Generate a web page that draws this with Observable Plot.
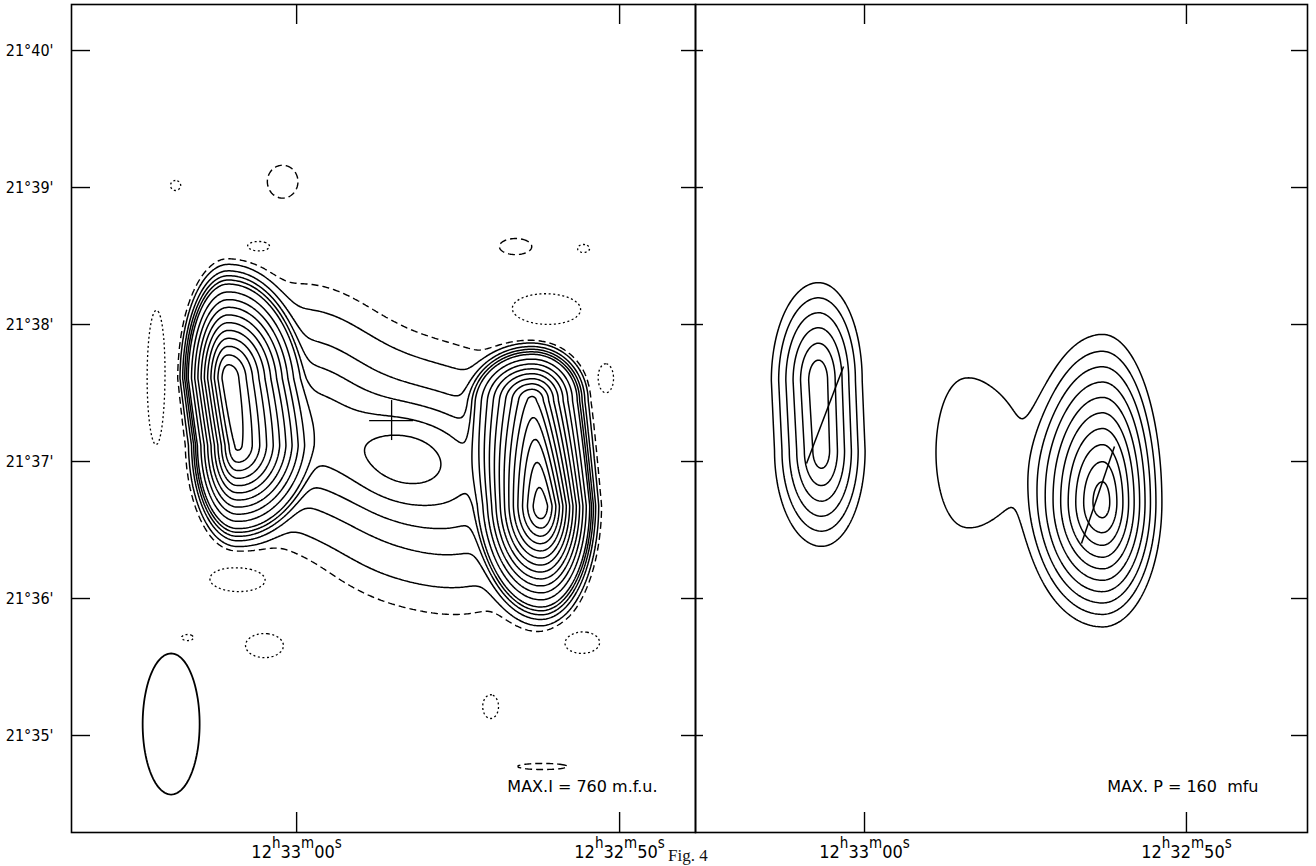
<!DOCTYPE html>
<html>
<head>
<meta charset="utf-8">
<script src="https://cdn.jsdelivr.net/npm/d3@7"></script>
<script src="https://cdn.jsdelivr.net/npm/@observablehq/plot@0.6"></script>
<style>
  html, body { margin: 0; padding: 0; background: #fff; }
  #figure { position: relative; width: 1316px; height: 866px; overflow: hidden; background: #fff; }
  #figure svg { position: absolute; top: 0; }
  #caption { position: absolute; left: 668px; top: 847px; font-family: "Liberation Serif", serif;
             font-size: 17px; line-height: 1; color: #111; white-space: nowrap; }
</style>
</head>
<body>
<div id="figure"><div id="caption">Fig. 4</div></div>
<script>
// ---- Axes: declination in arcmin past 21°, right ascension in seconds past 12h32m ----
const decTicks  = [35, 36, 37, 38, 39, 40];
const decLabels = ["21°35'", "21°36'", "21°37'", "21°38'", "21°39'", "21°40'"];
const raTicks   = [60, 50];
const raLabels  = ["12h33m00s", "12h32m50s"];

// Map extents
const decRange = [34.292, 40.336];
const raRangeI = [66.97, 47.65];
const raRangeP = [65.25, 46.24];

// ---- Total intensity (I) map ----
// Lobes: ridges running from a bottom point to a top point (RA s, Dec arcmin, peak mfu),
// with outer radii towards E, W, N and S.
const iLobeRaBot  = [61.858, 52.415];
const iLobeDecBot = [37.117, 36.679];
const iLobeAmpBot = [590, 735];
const iLobeRaTop  = [62.136, 52.693];
const iLobeDecTop = [37.606, 37.445];
const iLobeAmpTop = [632, 520];
const iLobeRadE   = [1.455, 2.043];
const iLobeRadW   = [2.322, 1.734];
const iLobeRadN   = [0.825, 0.423];
const iLobeRadS   = [0.730, 0.861];

// Bridge, core and the small noise islands (Gaussian blobs)
const iRa   = [59.876, 57.090, 54.613, 56.625,
               63.746, 61.176, 52.322, 50.433, 51.115, 64.334, 61.734, 63.375, 60.991, 51.176, 53.994,
               60.433, 53.220, 52.384];
const iDec  = [37.299, 36.993, 36.876, 37.044,
               39.015, 38.569, 38.109, 37.606, 38.555, 37.591, 36.146, 35.715, 35.657, 35.679, 35.212,
               39.044, 38.569, 34.774];
const iAmp  = [100, 72, 75, 34,
               -20, -20, -20, -20, -20, -20, -20, -20, -20, -20, -20,
               20, 20, 20];
const iSigE = [1.548, 1.486, 1.486, 1.200,
               0.155, 0.433, 1.115, 0.248, 0.186, 0.310, 0.991, 0.186, 0.588, 0.557, 0.248,
               0.464, 0.495, 0.774];
const iSigW = [1.548, 1.486, 1.486, 1.200,
               0.155, 0.433, 1.115, 0.248, 0.186, 0.310, 0.991, 0.186, 0.588, 0.557, 0.248,
               0.464, 0.495, 0.774];
const iSigN = [0.482, 0.453, 0.453, 0.230,
               0.036, 0.044, 0.117, 0.109, 0.029, 0.526, 0.102, 0.022, 0.088, 0.080, 0.088,
               0.117, 0.058, 0.022];
const iSigS = [0.438, 0.496, 0.496, 0.230,
               0.036, 0.044, 0.117, 0.109, 0.029, 0.526, 0.102, 0.022, 0.088, 0.080, 0.088,
               0.117, 0.058, 0.022];

// Contour levels of the I map (mfu)
const iLevelNeg    = [12];   // traced on the negated map: the -12 mfu level
const iLevelLow    = [12];
const iLevelsSolid = [25, 50, 75, 100, 125, 175, 225, 275, 325, 375, 425, 475, 525,
                      575, 625, 675, 725];

// ---- Polarized intensity (P) map ----
const pLobeRaBot  = [61.335, 52.609];
const pLobeDecBot = [37.080, 36.701];
const pLobeAmpBot = [98, 157];
const pLobeRaTop  = [61.429, 52.609];
const pLobeDecTop = [37.591, 36.701];
const pLobeAmpTop = [100, 157];
const pLobeRadE   = [1.677, 2.578];
const pLobeRadW   = [1.553, 1.988];
const pLobeRadN   = [0.818, 1.321];
const pLobeRadS   = [0.803, 0.978];

const pRa   = [56.925, 55.435];
const pDec  = [37.066, 37.044];
const pAmp  = [25, 12];
const pSigE = [0.839, 0.776];
const pSigW = [0.994, 0.776];
const pSigN = [0.511, 0.401];
const pSigS = [0.511, 0.401];

const pLevels = [15, 30, 45, 60, 75, 90, 105, 120, 135, 150];

// E-vectors on the P map (endpoints)
const vecRa1  = [61.801, 53.261];
const vecDec1 = [36.985, 36.401];
const vecRa2  = [60.652, 52.236];
const vecDec2 = [37.693, 37.109];

// Beam (half axes) and optical position
const beamRa = 63.885, beamDec = 35.084, beamHalfRa = 0.882, beamHalfDec = 0.515;
const galRa = 57.059, galDec = 37.299, galArmRa = 0.68, galArmDec = 0.146;

const maxI = 760, maxP = 160;

// ---- Sampling the model onto a regular grid ----
// Lobe profile: a cone with a rounded top (EPS) and a soft toe (SOFT)
const EPS = 0.15, S1 = Math.sqrt(1 + EPS * EPS), SOFT = 0.06;
const TOE0 = SOFT * Math.log1p(Math.exp(1 / SOFT));
function lobes(raB, decB, ampB, raT, decT, ampT, rE, rW, rN, rS) {
  return raB.map((_, k) => ({raB: raB[k], decB: decB[k], ampB: ampB[k], raT: raT[k], decT: decT[k],
    ampT: ampT[k], rE: rE[k], rW: rW[k], rN: rN[k], rS: rS[k]}));
}
function blobs(ra, dec, amp, sE, sW, sN, sS) {
  return ra.map((r, k) => ({ra: r, dec: dec[k], amp: amp[k], sE: sE[k], sW: sW[k], sN: sN[k], sS: sS[k]}));
}
function lobeValue(ra, dec, c) {
  const span = c.decT - c.decB;
  const t = span === 0 ? 0 : Math.max(0, Math.min(1, (dec - c.decB) / span));
  const sRa = c.raB + t * (c.raT - c.raB), sDec = c.decB + t * span;
  const amp = c.ampB + t * (c.ampT - c.ampB);
  const dx = ra - sRa, dy = dec - sDec;
  const rx = dx / (dx > 0 ? c.rE : c.rW), ry = dy / (dy > 0 ? c.rN : c.rS);
  const u = (S1 - Math.sqrt(rx * rx + ry * ry + EPS * EPS)) / (S1 - EPS);
  if (u < -0.6) return 0;
  return amp * SOFT * Math.log1p(Math.exp(u / SOFT)) / TOE0;
}
function blobValue(ra, dec, c) {
  const dx = ra - c.ra, dy = dec - c.dec;
  const q = (dx / (dx > 0 ? c.sE : c.sW)) ** 2 + (dy / (dy > 0 ? c.sN : c.sS)) ** 2;
  return q < 60 ? c.amp * Math.exp(-0.5 * q) : 0;
}
function sampleGrid(lobeList, blobList, raRange, nx, ny) {
  const out = new Array(nx * ny);
  for (let j = 0; j < ny; ++j) {
    const dec = decRange[0] + (j + 0.5) * (decRange[1] - decRange[0]) / ny;
    for (let i = 0; i < nx; ++i) {
      const ra = raRange[0] + (i + 0.5) * (raRange[1] - raRange[0]) / nx;
      let v = 0;
      for (const c of lobeList) v += lobeValue(ra, dec, c);
      for (const c of blobList) v += blobValue(ra, dec, c);
      out[j * nx + i] = v;
    }
  }
  return out;
}

const iLobes = lobes(iLobeRaBot, iLobeDecBot, iLobeAmpBot, iLobeRaTop, iLobeDecTop, iLobeAmpTop,
                     iLobeRadE, iLobeRadW, iLobeRadN, iLobeRadS);
const iBlobs = blobs(iRa, iDec, iAmp, iSigE, iSigW, iSigN, iSigS);
const pLobes = lobes(pLobeRaBot, pLobeDecBot, pLobeAmpBot, pLobeRaTop, pLobeDecTop, pLobeAmpTop,
                     pLobeRadE, pLobeRadW, pLobeRadN, pLobeRadS);
const pBlobs = blobs(pRa, pDec, pAmp, pSigE, pSigW, pSigN, pSigS);

const NXI = 416, NXP = 409, NY = 552;
const iGrid = sampleGrid(iLobes, iBlobs, raRangeI, NXI, NY);
const iGridNeg = iGrid.map(v => -v);
const pGrid = sampleGrid(pLobes, pBlobs, raRangeP, NXP, NY);

const condensed = "'DejaVu Sans Condensed', 'DejaVu Sans', sans-serif";
const regular = "'DejaVu Sans', sans-serif";
const H = 866, MT = 4, MB = 34;
const innerH = H - MT - MB;

function contourMark(grid, nx, raRange, thresholds, dash, width = 1.5) {
  return Plot.contour(grid, {
    width: nx, height: NY,
    x1: raRange[0], x2: raRange[1], y1: decRange[0], y2: decRange[1],
    thresholds, fill: "none", stroke: "black", strokeWidth: width,
    strokeDasharray: dash
  });
}

function frameMarks(innerW, leftTick, rightTick) {
  return [
    Plot.frame({stroke: "black", strokeWidth: 1.6}),
    Plot.tickX(raTicks, {x: d => d, insetTop: innerH - 20, strokeWidth: 1.4}),
    Plot.tickX(raTicks, {x: d => d, insetBottom: innerH - 20, strokeWidth: 1.4}),
    Plot.tickY(decTicks, {y: d => d, insetRight: innerW - leftTick, strokeWidth: 1.4}),
    Plot.tickY(decTicks, {y: d => d, insetLeft: innerW - rightTick, strokeWidth: 1.4}),
    Plot.axisX({anchor: "bottom", ticks: raTicks, tickSize: 0, tickPadding: 13,
      tickFormat: d => raLabels[raTicks.indexOf(d)], fontSize: 18, label: null})
  ];
}

// ---- Left panel: total intensity ----
const wI = 700, mlI = 71, mrI = 5;
const innerWI = wI - mlI - mrI;
const beamOutline = d3.range(0, 361, 3).map(t => ({
  ra: beamRa + beamHalfRa * Math.cos(t * Math.PI / 180),
  dec: beamDec + beamHalfDec * Math.sin(t * Math.PI / 180)
}));

const left = Plot.plot({
  width: wI, height: H, marginLeft: mlI, marginRight: mrI, marginTop: MT, marginBottom: MB,
  style: {fontFamily: condensed, fontSize: "16px", background: "none", overflow: "visible", color: "black"},
  x: {domain: raRangeI},
  y: {domain: decRange},
  marks: [
    contourMark(iGridNeg, NXI, raRangeI, iLevelNeg, "2,2.6", 1.3),
    contourMark(iGrid, NXI, raRangeI, iLevelLow, "7,4", 1.4),
    contourMark(iGrid, NXI, raRangeI, iLevelsSolid, null, 1.5),
    Plot.line(beamOutline, {x: "ra", y: "dec", stroke: "black", strokeWidth: 1.8}),
    Plot.ruleX([galRa], {x: d => d, y1: galDec - galArmDec, y2: galDec + galArmDec, strokeWidth: 1.3}),
    Plot.ruleY([galDec], {y: d => d, x1: galRa + galArmRa, x2: galRa - galArmRa, strokeWidth: 1.3}),
    Plot.text([`MAX.I = ${maxI} m.f.u.`], {frameAnchor: "bottom-right", textAnchor: "end",
      lineAnchor: "bottom", dx: -38, dy: -41, fontSize: 16, fontFamily: regular}),
    ...frameMarks(innerWI, 19, 14),
    Plot.axisY({anchor: "left", ticks: decTicks, tickSize: 0, tickPadding: 18,
      tickFormat: d => decLabels[decTicks.indexOf(d)], fontSize: 16, label: null})
  ]
});

// ---- Right panel: polarized intensity ----
const wP = 625, offP = 691, mlP = 4, mrP = 9;
const innerWP = wP - mlP - mrP;
const right = Plot.plot({
  width: wP, height: H, marginLeft: mlP, marginRight: mrP, marginTop: MT, marginBottom: MB,
  style: {fontFamily: condensed, fontSize: "16px", background: "none", overflow: "visible", color: "black"},
  x: {domain: raRangeP},
  y: {domain: decRange, axis: null},
  marks: [
    contourMark(pGrid, NXP, raRangeP, pLevels, null, 1.5),
    Plot.link(d3.range(vecRa1.length), {
      x1: i => vecRa1[i], y1: i => vecDec1[i], x2: i => vecRa2[i], y2: i => vecDec2[i],
      stroke: "black", strokeWidth: 1.5
    }),
    Plot.text([`MAX. P = ${maxP}  mfu`], {frameAnchor: "bottom-right", textAnchor: "end",
      lineAnchor: "bottom", dx: -49, dy: -41, fontSize: 16, fontFamily: regular}),
    ...frameMarks(innerWP, 8, 16)
  ]
});

// Raise the h / m / s unit letters of the RA labels
function superscriptUnits(svg) {
  const ns = "http://www.w3.org/2000/svg";
  svg.querySelectorAll('[aria-label="x-axis tick label"] text').forEach(t => {
    const parts = t.textContent.match(/^(\d+)h(\d+)m(\d+)s$/);
    if (!parts) return;
    t.textContent = "";
    const seq = [[parts[1], false], ["h", true], [parts[2], false], ["m", true], [parts[3], false], ["s", true]];
    let raised = false;
    for (const [str, sup] of seq) {
      const ts = document.createElementNS(ns, "tspan");
      ts.textContent = str;
      if (sup) { ts.setAttribute("font-size", "15"); ts.setAttribute("dy", "-10"); raised = true; }
      else if (raised) { ts.setAttribute("dy", "10"); raised = false; }
      t.appendChild(ts);
    }
  });
}
superscriptUnits(left);
superscriptUnits(right);

const fig = document.getElementById("figure");
left.style.left = "0px";
right.style.left = offP + "px";
fig.appendChild(left);
fig.appendChild(right);
</script>
</body>
</html>
